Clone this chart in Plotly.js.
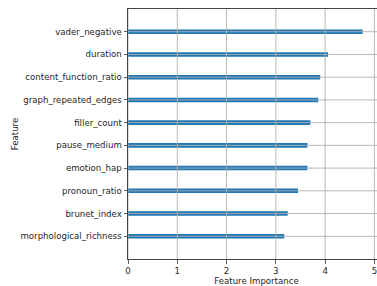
<!DOCTYPE html>
<html>
<head>
<meta charset="utf-8">
<script src="https://cdn.plot.ly/plotly-3.0.1.min.js"></script>
<style>
html,body{margin:0;padding:0;overflow:hidden;background:#fff;}
#chart{width:385px;height:286px;}
</style>
</head>
<body>
<div id="chart"></div>
<script>
const features = ["vader_negative","duration","content_function_ratio","graph_repeated_edges","filler_count","pause_medium","emotion_hap","pronoun_ratio","brunet_index","morphological_richness"];
const importance = [4.76, 4.06, 3.90, 3.86, 3.70, 3.64, 3.64, 3.45, 3.24, 3.17];
const xTicks = [0, 1, 2, 3, 4, 5];

const font = {family: "DejaVu Sans", size: 8.6, color: "#262626"};
const gridStyle = {color: "#b0b0b0", width: 0.9};

const shapes = [];
features.forEach(f => shapes.push({
  type: "line", layer: "above", xref: "paper", yref: "y",
  x0: 0, x1: 1, y0: f, y1: f, line: gridStyle
}));
xTicks.forEach(t => shapes.push({
  type: "line", layer: "above", xref: "x", yref: "paper",
  x0: t, x1: t, y0: 0, y1: 1, line: gridStyle
}));

Plotly.newPlot("chart", [{
  type: "bar",
  orientation: "h",
  x: importance,
  y: features,
  width: 0.2,
  marker: {color: "#1f77b4", line: {width: 0}},
  hoverinfo: "skip"
}], {
  width: 385,
  height: 286,
  margin: {l: 127.7, r: 0, t: 9, b: 27, pad: 0},
  paper_bgcolor: "#fff",
  plot_bgcolor: "#fff",
  font: font,
  showlegend: false,
  shapes: shapes,
  xaxis: {
    range: [0, 5.215],
    tickvals: xTicks,
    ticktext: xTicks.map(String),
    showgrid: false,
    zeroline: false,
    showline: true,
    linecolor: "#444",
    linewidth: 1,
    mirror: true,
    ticks: "outside",
    ticklen: 3.5,
    tickwidth: 0.8,
    tickcolor: "#333",
    tickfont: font,
    layer: "above traces",
    title: {text: "Feature Importance", font: font, standoff: 2.5}
  },
  yaxis: {
    type: "category",
    categoryorder: "array",
    categoryarray: features,
    range: [10, -1],
    showgrid: false,
    zeroline: false,
    showline: true,
    linecolor: "#444",
    linewidth: 1,
    mirror: true,
    ticks: "outside",
    ticklen: 3.5,
    tickwidth: 0.8,
    tickcolor: "#333",
    tickfont: font,
    layer: "above traces",
    title: {text: "Feature", font: font, standoff: 0}
  }
}, {staticPlot: true, displayModeBar: false});
</script>
</body>
</html>
